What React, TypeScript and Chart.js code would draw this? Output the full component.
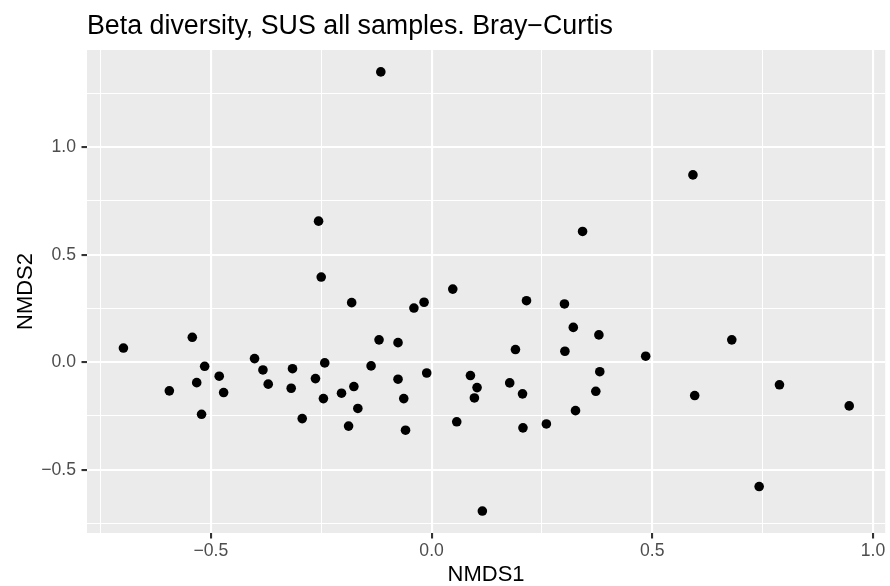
import React, { useEffect, useRef } from "react";
import { Chart, registerables } from "chart.js";

Chart.register(...registerables);

const chartTitle = "Beta diversity, SUS all samples. Bray\u2212Curtis";
const xAxisTitle = "NMDS1";
const yAxisTitle = "NMDS2";

const nmds1 = [
  -0.115, -0.256, -0.25, 0.048, -0.181, -0.04, -0.017, -0.698, -0.542, -0.594,
  -0.514, -0.532, -0.481, -0.471, -0.521, -0.401, -0.382, -0.37, -0.315, -0.318,
  -0.293, -0.263, -0.242, -0.245, -0.204, -0.176, -0.167, -0.188, -0.137, -0.119,
  -0.076, -0.076, -0.063, -0.059, -0.011, 0.088, 0.103, 0.097, 0.057, 0.115,
  0.215, 0.301, 0.321, 0.379, 0.19, 0.302, 0.485, 0.68, 0.381, 0.177,
  0.206, 0.372, 0.326, 0.207, 0.26, 0.596, 0.788, 0.946, 0.742, 0.592, 0.342,
];
const nmds2 = [
  1.35, 0.656, 0.396, 0.34, 0.277, 0.252, 0.279, 0.066, 0.116, -0.133,
  -0.019, -0.095, -0.065, -0.141, -0.242, 0.017, -0.036, -0.102, -0.03, -0.121,
  -0.262, -0.076, -0.003, -0.169, -0.144, -0.113, -0.215, -0.297, -0.017, 0.104,
  0.091, -0.079, -0.169, -0.316, -0.05, -0.062, -0.118, -0.166, -0.277, -0.692,
  0.286, 0.271, 0.162, 0.127, 0.059, 0.051, 0.028, 0.104, -0.044, -0.096,
  -0.147, -0.135, -0.225, -0.305, -0.287, -0.155, -0.105, -0.203, -0.578, 0.871, 0.608,
];

const xMajorTicks = [-0.5, 0, 0.5, 1.0];
const xMinorTicks = [-0.75, -0.25, 0.25, 0.75];
const yMajorTicks = [-0.5, 0, 0.5, 1.0];
const yMinorTicks = [-0.75, -0.25, 0.25, 0.75, 1.25];
const xLimits = [-0.7805, 1.0275];
const yLimits = [-0.794, 1.452];

const fmt = (v: number) => {
  const s = v.toFixed(1);
  return v < 0 ? "\u2212" + s.slice(1) : s;
};

const isMajor = (list: number[], v: number) =>
  list.some((m) => Math.abs(m - v) < 1e-9);

const panelBg = {
  id: "panelBg",
  beforeDraw(chart: any) {
    const { ctx, chartArea } = chart;
    ctx.save();
    ctx.fillStyle = "#EBEBEB";
    ctx.fillRect(
      chartArea.left,
      chartArea.top,
      chartArea.right - chartArea.left,
      chartArea.bottom - chartArea.top
    );
    ctx.restore();
  },
};

export default function App() {
  const ref = useRef<HTMLCanvasElement | null>(null);

  useEffect(() => {
    document.body.style.margin = "0";
    const canvas = ref.current;
    if (!canvas) return;
    const points = nmds1.map((x, i) => ({ x, y: nmds2[i] }));
    const tickSet = (major: number[], minor: number[]) =>
      [...major, ...minor].sort((a, b) => a - b).map((value) => ({ value }));

    const chart = new Chart(canvas, {
      type: "scatter",
      data: {
        datasets: [
          {
            data: points,
            backgroundColor: "#000000",
            borderWidth: 0,
            pointRadius: 4.8,
            pointHoverRadius: 4.8,
          },
        ],
      },
      plugins: [panelBg],
      options: {
        responsive: false,
        animation: false,
        devicePixelRatio: 1,
        layout: { padding: { left: 0, right: 4, top: 0, bottom: 0 } },
        plugins: {
          legend: { display: false },
          tooltip: { enabled: false },
          title: {
            display: true,
            text: chartTitle,
            align: "start",
            fullSize: false,
            color: "#000000",
            font: { family: "'Liberation Sans', Arial, sans-serif", size: 26.8, weight: "normal", lineHeight: 1.2 },
            padding: { top: 10.2, bottom: 7.6 },
          },
        },
        scales: {
          x: {
            type: "linear",
            min: xLimits[0],
            max: xLimits[1],
            afterBuildTicks: (scale: any) => {
              scale.ticks = tickSet(xMajorTicks, xMinorTicks);
            },
            afterFit: (scale: any) => {
              scale.height = 53;
            },
            border: { display: false },
            grid: {
              color: "#FFFFFF",
              lineWidth: (c: any) => (c.tick && isMajor(xMajorTicks, c.tick.value) ? 2.1 : 1.05),
              drawTicks: true,
              tickLength: 5.5,
              tickColor: (c: any) => (c.tick && isMajor(xMajorTicks, c.tick.value) ? "#333333" : "rgba(0,0,0,0)"),
              tickWidth: 2.1,
            },
            ticks: {
              autoSkip: false,
              maxRotation: 0,
              padding: 2.3,
              color: "#4D4D4D",
              font: { family: "'Liberation Sans', Arial, sans-serif", size: 17.6 },
              callback: (v: any) => (isMajor(xMajorTicks, Number(v)) ? fmt(Number(v)) : ""),
            },
            title: {
              display: true,
              text: xAxisTitle,
              color: "#000000",
              font: { family: "'Liberation Sans', Arial, sans-serif", size: 22, lineHeight: 1 },
              padding: { top: 0, bottom: 0 },
            },
          },
          y: {
            type: "linear",
            min: yLimits[0],
            max: yLimits[1],
            afterBuildTicks: (scale: any) => {
              scale.ticks = tickSet(yMajorTicks, yMinorTicks);
            },
            afterFit: (scale: any) => {
              scale.width = 87;
            },
            border: { display: false },
            grid: {
              color: "#FFFFFF",
              lineWidth: (c: any) => (c.tick && isMajor(yMajorTicks, c.tick.value) ? 2.1 : 1.05),
              drawTicks: true,
              tickLength: 5.5,
              tickColor: (c: any) => (c.tick && isMajor(yMajorTicks, c.tick.value) ? "#333333" : "rgba(0,0,0,0)"),
              tickWidth: 2.1,
            },
            ticks: {
              autoSkip: false,
              padding: 5.5,
              color: "#4D4D4D",
              font: { family: "'Liberation Sans', Arial, sans-serif", size: 17.6 },
              callback: (v: any) => (isMajor(yMajorTicks, Number(v)) ? fmt(Number(v)) : ""),
            },
            title: {
              display: true,
              text: yAxisTitle,
              color: "#000000",
              font: { family: "'Liberation Sans', Arial, sans-serif", size: 22, lineHeight: 1 },
              padding: { top: 15.4, bottom: 0 },
            },
          },
        },
      },
    } as any);

    return () => chart.destroy();
  }, []);

  return (
    <div style={{ position: "absolute", left: 0, top: 0, width: 890, height: 586 }}>
      <canvas ref={ref} width={890} height={586} style={{ display: "block", width: 890, height: 586 }} />
    </div>
  );
}
